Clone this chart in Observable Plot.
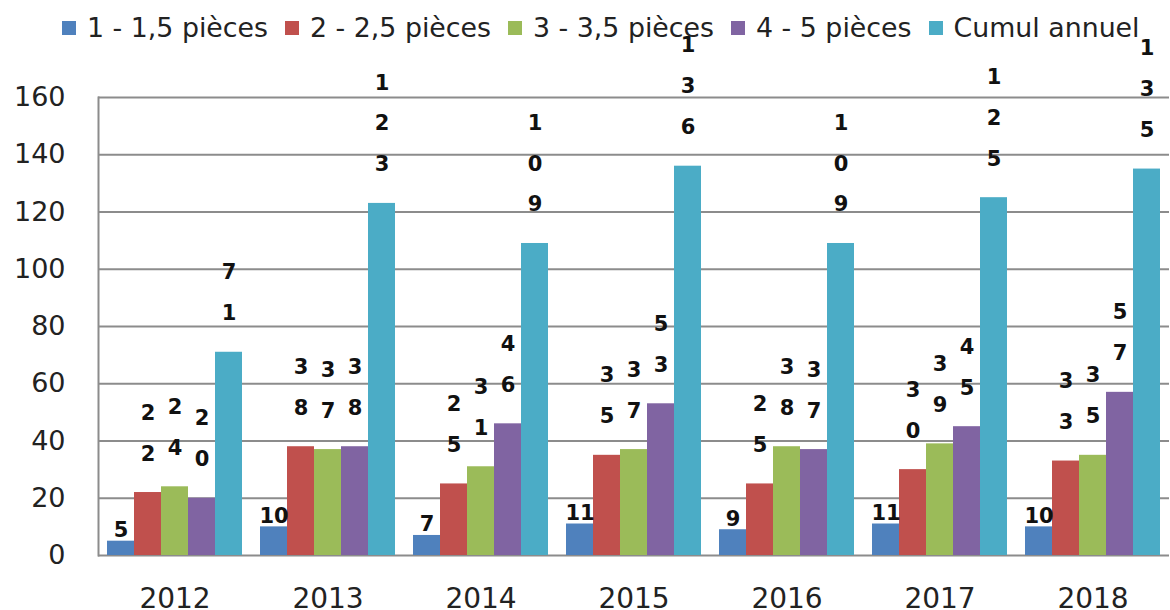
<!DOCTYPE html>
<html>
<head>
<meta charset="utf-8">
<script src="https://cdn.jsdelivr.net/npm/d3@7"></script>
<script src="https://cdn.jsdelivr.net/npm/@observablehq/plot@0.6"></script>
<style>
  html, body { margin: 0; padding: 0; background: #fff; overflow: hidden; }
  #wrap { position: relative; width: 1170px; height: 610px; }
  #legend { position: absolute; left: 62px; top: 12px; display: flex; align-items: center; font-family: "DejaVu Sans", sans-serif; font-size: 26.8px; color: #222; z-index: 2; white-space: nowrap; }
  #legend .item { display: flex; align-items: center; margin-right: 17px; }
  #legend .sw { width: 14px; height: 14px; margin-right: 11px; }
</style>
</head>
<body>
<div id="wrap">
  <div id="legend"></div>
  <div id="chart"></div>
</div>
<script>
const years = ["2012", "2013", "2014", "2015", "2016", "2017", "2018"];
const series = ["1 - 1,5 pièces", "2 - 2,5 pièces", "3 - 3,5 pièces", "4 - 5 pièces", "Cumul annuel"];
const colors = ["#4F81BD", "#C0504D", "#9BBB59", "#8064A2", "#4BACC6"];
const pieces1 = [5, 10, 7, 11, 9, 11, 10];
const pieces2 = [22, 38, 25, 35, 25, 30, 33];
const pieces3 = [24, 37, 31, 37, 38, 39, 35];
const pieces45 = [20, 38, 46, 53, 37, 45, 57];
const cumul = [71, 123, 109, 136, 109, 125, 135];
const yTicks = [0, 20, 40, 60, 80, 100, 120, 140, 160];

const valuesBySeries = [pieces1, pieces2, pieces3, pieces45, cumul];
const rows = [];
years.forEach((yr, i) => {
  series.forEach((s, j) => {
    rows.push({ year: yr, series: s, value: valuesBySeries[j][i], idx: j });
  });
});

// legend
const legend = document.getElementById("legend");
series.forEach((s, j) => {
  const it = document.createElement("div");
  it.className = "item";
  const sw = document.createElement("div");
  sw.className = "sw";
  sw.style.background = colors[j];
  const tx = document.createElement("span");
  tx.textContent = s;
  it.appendChild(sw); it.appendChild(tx);
  legend.appendChild(it);
});

const grid = "#8c8c8c";
const chart = Plot.plot({
  width: 1170,
  height: 620,
  marginLeft: 97,
  marginRight: 0,
  marginTop: 97,
  marginBottom: 65,
  style: { fontFamily: "DejaVu Sans, sans-serif", fontSize: "27px", background: "white", color: "#222" },
  fx: { domain: years, padding: 0, label: null, axis: null },
  x: { domain: series, paddingInner: 0, paddingOuter: 0.33, axis: null },
  y: { domain: [0, 160], label: null },
  color: { domain: series, range: colors },
  marks: [
    Plot.ruleY(yTicks, { stroke: grid, strokeWidth: 2 }),
    Plot.frame({ anchor: "left", facetAnchor: "left", stroke: grid, strokeWidth: 2 }),
    Plot.barY(rows, { fx: "year", x: "series", y: "value", fill: "series" }),
    Plot.text(rows.filter(d => d.idx === 0), {
      fx: "year", x: "series", y: "value", text: d => String(d.value),
      fontWeight: "bold", fontSize: 21, lineAnchor: "bottom", dy: -4, fill: "#111"
    }),
    Plot.text(rows.filter(d => d.idx > 0), {
      fx: "year", x: "series", y: "value", text: d => String(d.value).split("").join("\n"),
      fontWeight: "bold", fontSize: 21, lineHeight: 1.95, lineAnchor: "bottom", dy: -32, fill: "#111"
    }),
    Plot.axisY({ ticks: yTicks, tickSize: 0, tickPadding: 33, label: null, fontSize: 27 }),
    Plot.axisFx({ anchor: "bottom", tickSize: 0, tickPadding: 33, label: null, fontSize: 28 })
  ]
});
document.getElementById("chart").appendChild(chart);
</script>
</body>
</html>
